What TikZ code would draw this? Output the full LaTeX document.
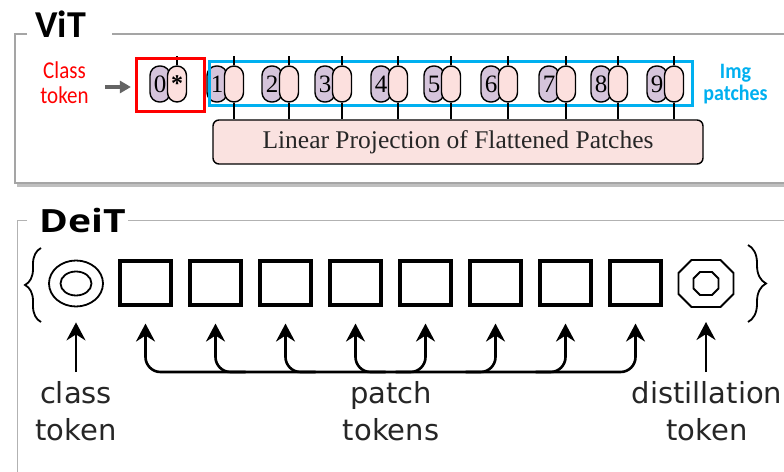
\documentclass[tikz,border=0pt]{standalone}
\usepackage{fontspec}
\usepackage{graphicx}
\setmainfont{Liberation Serif}
\newfontfamily\carlito{Carlito}
\newfontfamily\dejavu{DejaVu Sans}
\newfontfamily\opensans{Open Sans}
\usetikzlibrary{arrows.meta,decorations.pathreplacing,shapes.geometric,calc}
\definecolor{pillpurple}{RGB}{213,196,219}
\definecolor{pillpink}{RGB}{252,224,222}
\definecolor{boxpink}{RGB}{250,226,224}
\definecolor{imgblue}{RGB}{0,176,240}
\definecolor{framegray}{RGB}{165,165,165}
\definecolor{darkarrow}{RGB}{100,100,100}
\begin{document}
\begin{tikzpicture}[x=1bp,y=-1bp,
  pillA/.style={draw, line width=1.4bp, fill=pillpurple, rounded corners=9.5bp, minimum width=20bp, minimum height=36bp, inner sep=0, font=\fontsize{25bp}{25bp}\selectfont},
  pillB/.style={draw, line width=1.4bp, fill=pillpink, rounded corners=9.5bp, minimum width=19bp, minimum height=36bp, inner sep=0, font=\fontsize{24bp}{24bp}\selectfont},
  sq/.style={draw, line width=3.6bp, minimum width=51.5bp, minimum height=43.5bp, inner sep=0},
  tip/.tip={Stealth[length=18bp,width=19bp,inset=6bp]},
  arr/.style={line width=2.6bp, -tip},
  lbl/.style={font=\dejavu\fontsize{29bp}{37bp}\selectfont, align=center, anchor=north, inner sep=0, text=black!85},
  bracestyle/.style={line width=1.8bp, decorate},
  vitframe/.style={framegray, line width=1.3bp},
  deitframe/.style={black!30, line width=1bp},
  redlbl/.style={red, font=\carlito\fontsize{21bp}{25bp}\selectfont, align=center, inner sep=0},
  bluelbl/.style={imgblue, font=\carlito\bfseries\fontsize{20bp}{22bp}\selectfont, align=center, inner sep=0}]
\useasboundingbox (0,0) rectangle (784,472);
\fill[white] (0,0) rectangle (784,472);

% ---------------- ViT frame ----------------
\draw[black!25, line width=3bp] (17,185.5) -- (784,185.5);
\draw[vitframe] (27,34) -- (15,34) -- (15,183) -- (784,183);
\draw[vitframe] (112,34) -- (784,34);
\node[font=\carlito\bfseries\fontsize{38bp}{40bp}\selectfont, anchor=base west, inner sep=0] (vit) at (35,38) {ViT};

% class token label
\node[redlbl] (clslbl) at (64.5,82.5) {\scalebox{1}[1.15]{Class}\\\scalebox{1}[1.15]{token}};

% img patches label
\node[bluelbl] (imglbl) at (735.5,84) {\scalebox{1}[1.1]{Img}\\\scalebox{1}[1.1]{patches}};

% projection box
\node[draw, line width=1.4bp, fill=boxpink, rounded corners=6bp, minimum width=490bp, minimum height=44bp, inner sep=0,
      font=\fontsize{25.5bp}{26bp}\selectfont, text=black!85] (proj) at (458,142) {Linear Projection of Flattened Patches};

% class pill pair
\node[pillA] (pa0) at (160,84) {0};
\node[pillB] (pb0) at (177,84) {\raisebox{-0.22em}{\textbf{*}}};
\draw[line width=1.4bp] (pb0.north) -- ++(0,-9);

% patch pill pairs
\foreach \t/\l [count=\i] in {234/1,289/2,342/3,398/4,451/5,508/6,566/7,618/8,674/9}{
  \node[pillA] (pa\i) at (\t-17,84) {\l};
  \node[pillB] (pb\i) at (\t,84) {};
}

% boxes
\node[draw=red, line width=3.2bp, minimum width=68bp, minimum height=53bp, inner sep=0] (redbox) at (170.5,85) {};
\node[draw=imgblue, line width=3bp, minimum width=483bp, minimum height=44bp, inner sep=0] (bluebox) at (451,83.5) {};

\foreach \i in {1,...,9}{
  \draw[line width=1.4bp] (pb\i.north) -- ++(0,-9);
  \draw[line width=2.2bp] (pb\i.south) -- (pb\i.south |- proj.north);
}

% gray arrow
\coordinate (garr) at (105,87);
\draw[darkarrow, line width=3.5bp, -{Triangle[length=11bp,width=12bp]}] (garr) -- ([xshift=-4bp]redbox.west |- garr);

% ---------------- DeiT frame ----------------
\draw[deitframe] (27,221) -- (17,221) -- (17,472);
\draw[deitframe] (128,221) -- (784,221);
\node[font=\opensans\bfseries\fontsize{32bp}{34bp}\selectfont, anchor=base west, inner sep=0] (deit) at (39,233) {\scalebox{1.22}[1]{DeiT}};

% braces
\draw[bracestyle, decoration={brace, amplitude=16bp}] (41,322) -- (41,248);
\draw[bracestyle, decoration={brace, amplitude=18bp}] (748,245) -- (748,322);

% class token
\node[draw, ellipse, line width=1.8bp, minimum width=54bp, minimum height=46bp, inner sep=0] (cls) at (76,283.5) {};
\node[draw, ellipse, line width=1.8bp, minimum width=31bp, minimum height=24bp, inner sep=0] (clsin) at (cls) {};

% patch squares
\foreach \i in {1,...,8}{
  \node[sq] (s\i) at ({145.5+70*(\i-1)},283) {};
}

% distillation token
\coordinate (dist) at (706,283.5);
\begin{scope}[shift={(dist)}, line width=1.8bp]
  \draw (-14.5,-23.5) -- (14.5,-23.5) -- (27.5,-10.5) -- (27.5,10.5) -- (14.5,23.5) -- (-14.5,23.5) -- (-27.5,10.5) -- (-27.5,-10.5) -- cycle;
  \draw (-6,-11.5) -- (6,-11.5) -- (12.5,-5) -- (12.5,5) -- (6,11.5) -- (-6,11.5) -- (-12.5,5) -- (-12.5,-5) -- cycle;
\end{scope}

% labels
\node[lbl] (ctxt) at (76,381) {class\\token};
\node[lbl] (ptxt) at (391,381) {patch\\tokens};
\node[lbl] (dtxt) at (707,381) {distillation\\token};

% arrows
\coordinate (hl) at (0,372);
\draw[arr] ([yshift=9bp]ctxt.north) -- ([yshift=-15bp]cls.south);
\draw[arr] (dist |- hl) -- ([yshift=-38.5bp]dist);
\draw[line width=2.6bp, tip-tip, rounded corners=15bp]
  ([yshift=-17bp]s1.south) -- (s1.south |- hl) -- (s8.south |- hl) -- ([yshift=-17bp]s8.south);
\foreach \i in {2,3,4}{
  \draw[arr, rounded corners=15bp] ($(s\i.south |- hl)+(30,0)$) -- (s\i.south |- hl) -- ([yshift=-17bp]s\i.south);
}
\foreach \i in {5,6,7}{
  \draw[arr, rounded corners=15bp] ($(s\i.south |- hl)+(-30,0)$) -- (s\i.south |- hl) -- ([yshift=-17bp]s\i.south);
}
\end{tikzpicture}
\end{document}
